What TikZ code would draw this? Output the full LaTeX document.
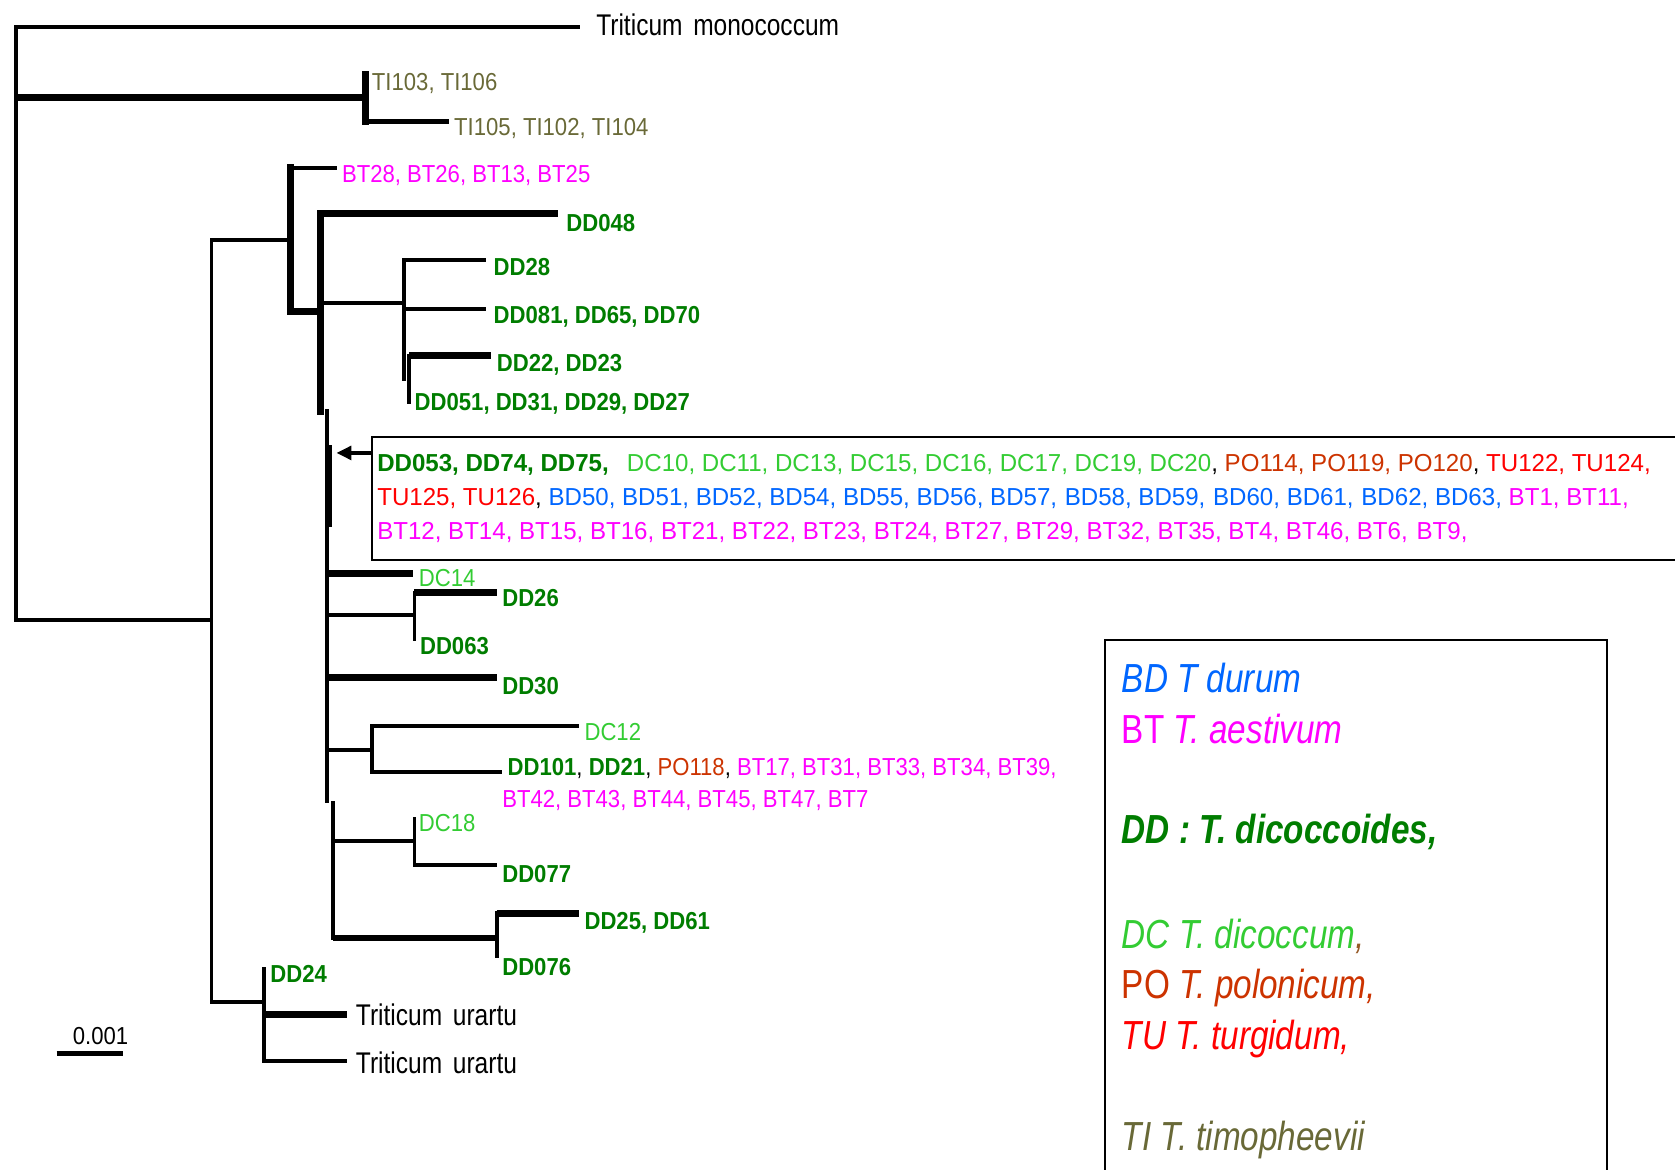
\documentclass[tikz,border=0pt]{standalone}
\usepackage{fontspec}
\setmainfont{Liberation Sans}
\newfontfamily\trf[FakeStretch=0.9]{Liberation Sans}
\newfontfamily\bxf[FakeStretch=0.98]{Liberation Sans}
\newfontfamily\nrf[FakeStretch=0.82]{Liberation Sans}
\usetikzlibrary{arrows.meta}
\definecolor{tiC}{RGB}{105,105,55}
\definecolor{btC}{RGB}{255,0,255}
\definecolor{ddC}{RGB}{0,125,0}
\definecolor{dcC}{RGB}{51,204,51}
\definecolor{poC}{RGB}{204,51,0}
\definecolor{tuC}{RGB}{255,0,0}
\definecolor{bdC}{RGB}{0,102,255}
\definecolor{cmC}{RGB}{150,90,40}
\newcommand{\ddb}[1]{\textcolor{ddC}{\bfseries #1}}
\begin{document}
\begin{tikzpicture}[x=1pt,y=-1pt,
  thn/.style={line width=3.6pt},
  thk/.style={line width=6.5pt},
  vrt/.style={line width=3.6pt,line cap=rect},
  vrk/.style={line width=6.5pt,line cap=rect},
  lab/.style={anchor=base west,inner sep=0pt,font=\trf\fontsize{23}{27}\selectfont},
  blab/.style={lab,font=\trf\bfseries\fontsize{23}{27}\selectfont,text=ddC},
  tlab/.style={anchor=base west,inner sep=0pt,font=\nrf\fontsize{28}{32}\selectfont},
  bxl/.style={anchor=base west,inner sep=0pt,font=\bxf\fontsize{23}{27}\selectfont},
  lgl/.style={anchor=base west,inner sep=0pt,font=\nrf\fontsize{38}{44}\selectfont},
]
\useasboundingbox (0,0) rectangle (1568,1095);
% ---------- coordinates ----------
\coordinate (rT) at (15,25);   \coordinate (rB) at (15,580);
\coordinate (mono) at (543,25);
\coordinate (rTI) at (15,91);  \coordinate (ti) at (342,91);
\coordinate (tiT) at (342,70); \coordinate (tiB) at (342,114);
\coordinate (ti105) at (420,114);
\coordinate (aT) at (198,225); \coordinate (aB) at (198,938);
\coordinate (aJ) at (198,580);
\coordinate (b) at (272,225);
\coordinate (bT) at (272,157); \coordinate (bB) at (272,292);
\coordinate (bt28) at (315,157);
\coordinate (c) at (303,292);
\coordinate (cT) at (300,200); \coordinate (cM) at (300,385);
\coordinate (dd048) at (522,200);
\coordinate (dJ) at (303,284); \coordinate (d) at (378,284);
\coordinate (dT) at (378,243); \coordinate (dB) at (378,355);
\coordinate (dd28) at (455,243);
\coordinate (dM) at (378,289); \coordinate (dd081) at (455,289);
\coordinate (eT) at (383,333); \coordinate (eB) at (383,376);
\coordinate (dd22) at (460,333);
\coordinate (mT) at (306,385); \coordinate (mB) at (306,750);
\coordinate (mkT) at (308,420); \coordinate (mkB) at (308,490);
\coordinate (lT) at (312,752); \coordinate (lB) at (312,878);
\coordinate (j14) at (306,537); \coordinate (dc14) at (387,537);
\coordinate (j26) at (306,576); \coordinate (f) at (388,576);
\coordinate (fT) at (388,555); \coordinate (fB) at (388,598);
\coordinate (dd26) at (465,555);
\coordinate (j30) at (306,634); \coordinate (dd30) at (465,634);
\coordinate (j12) at (306,702); \coordinate (g) at (348,702);
\coordinate (gT) at (348,680); \coordinate (gB) at (348,723);
\coordinate (dc12) at (542,680); \coordinate (dd101) at (470,723);
\coordinate (j18) at (312,787); \coordinate (h) at (388,787);
\coordinate (hT) at (388,767); \coordinate (hB) at (388,810);
\coordinate (dd077) at (465,810);
\coordinate (j25) at (312,878); \coordinate (k) at (465,878);
\coordinate (kT) at (465,855); \coordinate (kB) at (465,895);
\coordinate (dd25) at (542,855);
\coordinate (uJ) at (198,938); \coordinate (u) at (247,938);
\coordinate (uT) at (247,907); \coordinate (uB) at (247,993);
\coordinate (ur1) at (325,950); \coordinate (ur1s) at (247,950);
\coordinate (ur2) at (325,993);
\coordinate (sbL) at (53,986); \coordinate (sbR) at (115,986);
% ---------- branches ----------
\draw[vrt] (rT) -- (rB);
\draw[thn] (rT) -- (mono);
\draw[thk] (rTI) -- (ti);
\draw[vrk] (tiT) -- (tiB);
\draw[line width=5pt] (tiB) -- (ti105);
\draw[thn] (rB) -- (aJ);
\draw[vrt] (aT) -- (aB);
\draw[thn] (aT) -- (b);
\draw[vrk] (bT) -- (bB);
\draw[thn] (bT) -- (bt28);
\draw[thk] (bB) -- (c);
\draw[vrk] (cT) -- (cM);
\draw[thk] (cT) -- (dd048);
\draw[thn] (dJ) -- (d);
\draw[vrt] (dT) -- (dB);
\draw[thn] (dT) -- (dd28);
\draw[thn] (dM) -- (dd081);
\draw[vrt] (eT) -- (eB);
\draw[thk] (eT) -- (dd22);
\draw[vrt] (mT) -- (mB);
\draw[vrk] (mkT) -- (mkB);
\draw[vrt] (lT) -- (lB);
\draw[thk] (j14) -- (dc14);
\draw[thn] (j26) -- (f);
\draw[vrt] (fT) -- (fB);
\draw[thk] (fT) -- (dd26);
\draw[thk] (j30) -- (dd30);
\draw[thn] (j12) -- (g);
\draw[vrt] (gT) -- (gB);
\draw[thn] (gT) -- (dc12);
\draw[thn] (gB) -- (dd101);
\draw[thn] (j18) -- (h);
\draw[vrt] (hT) -- (hB);
\draw[thn] (hB) -- (dd077);
\draw[line width=5.5pt] (j25) -- (k);
\draw[vrt] (kT) -- (kB);
\draw[thk] (kT) -- (dd25);
\draw[thn] (uJ) -- (u);
\draw[vrt] (uT) -- (uB);
\draw[thk] (ur1s) -- (ur1);
\draw[thn] (uB) -- (ur2);
\draw[line width=5pt] (sbL) -- (sbR);
% ---------- leaf labels ----------
\node[tlab] (Lmono) at (558,33) {Triticum\hspace{10pt}monococcum};
\node[lab,text=tiC] (Lti103) at (348,85) {TI103, TI106};
\node[lab,text=tiC] (Lti105) at (425,127) {TI105, TI102, TI104};
\node[lab,text=btC] (Lbt28) at (320,171) {BT28, BT26, BT13, BT25};
\node[blab] (Ldd048) at (530,217) {DD048};
\node[blab] (Ldd28) at (462,258) {DD28};
\node[blab] (Ldd081) at (462,303) {DD081, DD65, DD70};
\node[blab] (Ldd22) at (465,348) {DD22, DD23};
\node[blab] (Ldd051) at (388,384) {DD051, DD31, DD29, DD27};
\node[lab,text=dcC] (Ldc14) at (392,549) {DC14};
\node[blab] (Ldd26) at (470,568) {DD26};
\node[blab] (Ldd063) at (393,613) {DD063};
\node[blab] (Ldd30) at (470,650) {DD30};
\node[lab,text=dcC] (Ldc12) at (547,693) {DC12};
\node[lab] (Ldd101) at (475,726) {\ddb{DD101}, \ddb{DD21}, \textcolor{poC}{PO118}, \textcolor{btC}{BT17, BT31, BT33, BT34, BT39,}};
\node[lab,text=btC] (Lbt42) at (470,756) {BT42, BT43, BT44, BT45, BT47, BT7};
\node[lab,text=dcC] (Ldc18) at (392,778) {DC18};
\node[blab] (Ldd077) at (470,826) {DD077};
\node[blab] (Ldd25) at (547,870) {DD25, DD61};
\node[blab] (Ldd076) at (470,913) {DD076};
\node[blab] (Ldd24) at (253,920) {DD24};
\node[tlab] (Lur1) at (333,960) {Triticum\hspace{10pt}urartu};
\node[tlab] (Lur2) at (333,1005) {Triticum\hspace{10pt}urartu};
\node[lab] (Lsb) at (68,978) {0.001};
% ---------- collapsed group box ----------
\node[draw,line width=2.4pt,anchor=north west,minimum width=1320pt,minimum height=115pt,inner sep=0pt] (bigbox) at (347,408) {};
\coordinate (arrS) at (347,424); \coordinate (arrE) at (315,424);
\draw[line width=3pt,-{Triangle[length=14pt,width=13pt]}] (arrS) -- (arrE);
\node[bxl] (bx1) at (353,441) {\ddb{DD053, DD74, DD75,}\hspace{17pt}\textcolor{dcC}{DC10, DC11, DC13, DC15, DC16, DC17, DC19, DC20}, \textcolor{poC}{PO114, PO119, PO120}, \textcolor{tuC}{TU122, TU124,}};
\node[bxl] (bx2) at (353,473) {\textcolor{tuC}{TU125, TU126}, \textcolor{bdC}{BD50, BD51, BD52, BD54, BD55, BD56, BD57,\hspace{1pt} BD58, BD59,\hspace{1pt} BD60, BD61,\hspace{1pt} BD62, BD63,} \textcolor{btC}{BT1, BT11,}};
\node[bxl,text=btC] (bx3) at (353,505) {BT12, BT14, BT15, BT16, BT21, BT22, BT23, BT24, BT27, BT29, BT32, BT35, BT4, BT46, BT6,\hspace{2pt} BT9,};
% ---------- legend ----------
\node[draw,line width=2pt,anchor=north west,minimum width=470pt,minimum height=560pt,inner sep=0pt] (legbox) at (1033,598) {};
\node[lgl,text=bdC] (lg1) at (1050,648) {\itshape BD T durum};
\node[lgl,text=btC] (lg2) at (1050,696) {BT \itshape T. aestivum};
\node[lgl,text=ddC] (lg3) at (1050,790) {\bfseries\itshape DD : T. dicoccoides,};
\node[lgl,text=dcC] (lg4) at (1050,888) {\itshape DC T. dicoccum\textcolor{cmC}{,}};
\node[lgl,text=poC] (lg5) at (1050,935) {PO \itshape T. polonicum,};
\node[lgl,text=tuC] (lg6) at (1050,982) {\itshape TU T. turgidum,};
\node[lgl,text=tiC] (lg7) at (1050,1077) {\itshape TI T. timopheevii};
\end{tikzpicture}
\end{document}
